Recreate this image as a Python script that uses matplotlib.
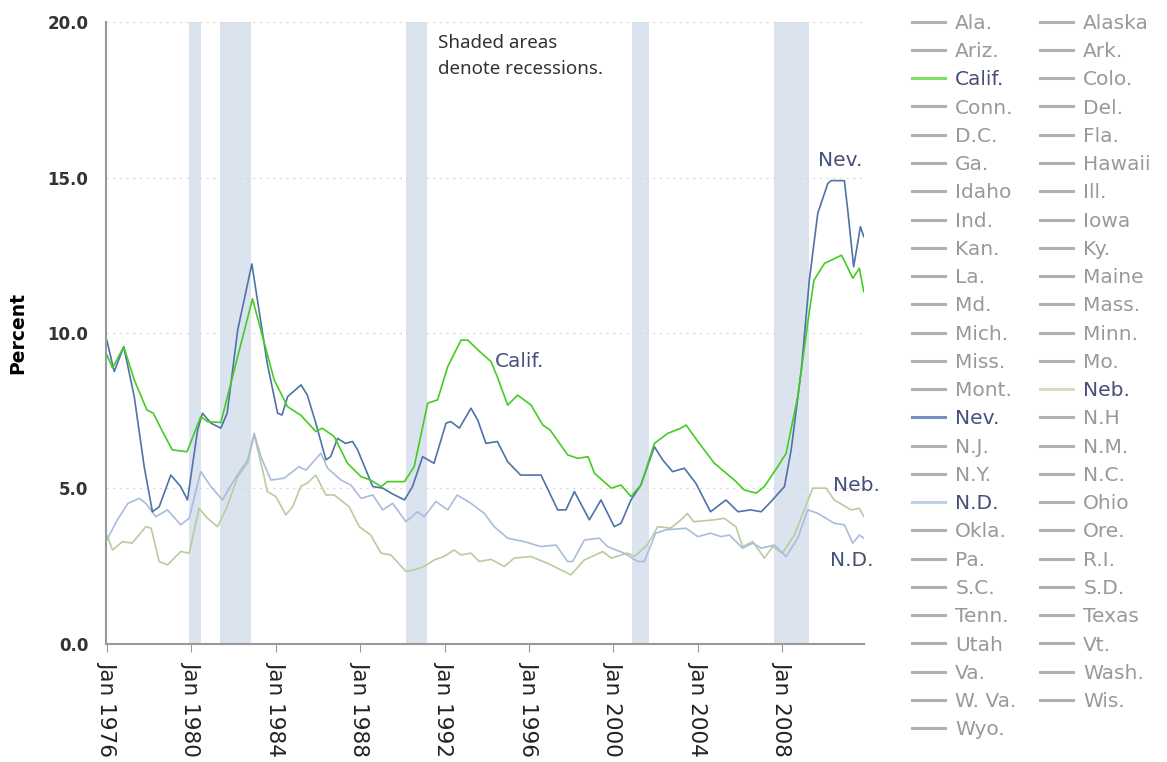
import matplotlib
matplotlib.use('Agg')
import matplotlib.pyplot as plt
from matplotlib.lines import Line2D

plt.rcParams['font.family'] = ['DejaVu Sans']

# unemployment rate, percent
calif_t = [1976.0, 1976.27, 1976.8, 1977.3, 1977.9, 1978.2, 1978.6, 1979.1, 1979.8, 1980.45,
           1980.77, 1981.4, 1982.9, 1983.93, 1984.56, 1985.2, 1985.9, 1986.2, 1986.77, 1987.4,
           1988.04, 1988.5, 1988.99, 1989.3, 1990.1, 1990.56, 1991.2, 1991.67, 1992.15, 1992.78,
           1993.1, 1993.7, 1994.2, 1994.5, 1994.99, 1995.46, 1996.1, 1996.65, 1997.0, 1997.83,
           1998.3, 1998.8, 1999.1, 1999.9, 2000.36, 2000.83, 2001.3, 2001.94, 2002.57, 2003.2,
           2003.44, 2004.0, 2004.78, 2005.73, 2006.2, 2006.76, 2007.15, 2007.78, 2008.18, 2008.73,
           2009.2, 2009.5, 2010.0, 2010.8, 2011.0, 2011.34, 2011.65, 2011.86]
calif_v = [9.3, 8.87, 9.56, 8.49, 7.52, 7.42, 6.88, 6.24, 6.18, 7.31,
           7.15, 7.12, 11.1, 8.49, 7.63, 7.35, 6.83, 6.94, 6.67, 5.81,
           5.38, 5.27, 5.06, 5.22, 5.22, 5.70, 7.74, 7.85, 8.92, 9.77,
           9.77, 9.38, 9.08, 8.59, 7.68, 8.0, 7.68, 7.04, 6.88, 6.08,
           5.97, 6.02, 5.49, 5.01, 5.11, 4.74, 5.11, 6.45, 6.77, 6.94,
           7.04, 6.51, 5.81, 5.27, 4.95, 4.85, 5.06, 5.70, 6.13, 7.95,
           10.31, 11.7, 12.24, 12.5, 12.24, 11.76, 12.08, 11.33]

nev_t = [1976.0, 1976.35, 1976.8, 1977.3, 1977.77, 1978.16, 1978.48, 1979.03, 1979.5, 1979.82,
         1980.3, 1980.53, 1980.93, 1981.4, 1981.7, 1982.2, 1982.87, 1983.6, 1984.09, 1984.3,
         1984.56, 1985.2, 1985.5, 1985.9, 1986.38, 1986.6, 1986.93, 1987.3, 1987.64, 1987.88,
         1988.6, 1989.07, 1989.46, 1990.1, 1990.48, 1990.96, 1991.5, 1992.07, 1992.3, 1992.7,
         1993.25, 1993.57, 1993.96, 1994.5, 1994.99, 1995.6, 1996.57, 1997.36, 1997.75, 1998.15,
         1998.86, 1999.41, 2000.04, 2000.36, 2000.83, 2001.3, 2001.94, 2002.33, 2002.8, 2003.36,
         2003.9, 2004.6, 2005.33, 2005.9, 2006.5, 2007.0, 2007.47, 2008.1, 2008.42, 2008.9,
         2009.28, 2009.68, 2010.15, 2010.3, 2010.94, 2011.1, 2011.38, 2011.7, 2011.86]
nev_v = [9.77, 8.76, 9.56, 7.95, 5.70, 4.25, 4.41, 5.43, 5.06, 4.63,
         6.88, 7.42, 7.10, 6.94, 7.42, 10.1, 12.22, 9.02, 7.42, 7.36,
         7.95, 8.33, 8.0, 7.10, 5.92, 6.02, 6.61, 6.45, 6.51, 6.24,
         5.06, 5.01, 4.85, 4.63, 5.06, 6.02, 5.81, 7.10, 7.15, 6.94,
         7.58, 7.20, 6.45, 6.51, 5.86, 5.43, 5.43, 4.31, 4.31, 4.90,
         3.99, 4.63, 3.77, 3.88, 4.63, 5.11, 6.34, 5.92, 5.54, 5.65,
         5.17, 4.25, 4.63, 4.25, 4.31, 4.25, 4.58, 5.06, 6.24, 8.81,
         11.7, 13.85, 14.8, 14.9, 14.9, 13.95, 12.13, 13.42, 13.1]

nd_t = [1976.0, 1976.5, 1977.0, 1977.53, 1977.85, 1978.32, 1978.87, 1979.5, 1979.9, 1980.45,
        1980.93, 1981.48, 1982.03, 1982.67, 1982.98, 1983.3, 1983.77, 1984.4, 1985.1, 1985.43,
        1986.14, 1986.46, 1987.09, 1987.56, 1988.04, 1988.6, 1989.07, 1989.54, 1990.17, 1990.72,
        1991.04, 1991.59, 1992.15, 1992.6, 1993.25, 1993.88, 1994.35, 1994.99, 1995.77, 1996.57,
        1997.28, 1997.83, 1998.07, 1998.62, 1999.33, 1999.72, 2000.5, 2001.15, 2001.46, 2002.0,
        2002.5, 2003.44, 2004.0, 2004.6, 2005.1, 2005.5, 2006.12, 2006.6, 2007.0, 2007.63,
        2008.18, 2008.73, 2009.2, 2009.68, 2010.46, 2010.94, 2011.34, 2011.65, 2011.86]
nd_v = [3.34, 3.99, 4.52, 4.68, 4.52, 4.09, 4.31, 3.83, 4.04, 5.54,
        5.06, 4.63, 5.27, 5.92, 6.77, 6.02, 5.27, 5.33, 5.70, 5.59,
        6.13, 5.65, 5.27, 5.11, 4.68, 4.79, 4.31, 4.52, 3.93, 4.25,
        4.09, 4.58, 4.31, 4.79, 4.52, 4.20, 3.77, 3.40, 3.29, 3.13,
        3.18, 2.65, 2.65, 3.34, 3.40, 3.13, 2.92, 2.65, 2.65, 3.56,
        3.67, 3.72, 3.45, 3.56, 3.45, 3.5, 3.08, 3.24, 3.08, 3.18,
        2.81, 3.40, 4.31, 4.20, 3.88, 3.83, 3.24, 3.50, 3.40]

neb_t = [1976.0, 1976.27, 1976.74, 1977.2, 1977.85, 1978.1, 1978.48, 1978.87, 1979.5, 1979.9,
         1980.37, 1980.77, 1981.24, 1981.7, 1982.2, 1982.67, 1982.98, 1983.38, 1983.6, 1984.0,
         1984.48, 1984.8, 1985.2, 1985.5, 1985.9, 1986.38, 1986.77, 1987.48, 1987.96, 1988.5,
         1988.99, 1989.46, 1990.17, 1990.56, 1991.04, 1991.5, 1991.97, 1992.45, 1992.78, 1993.25,
         1993.64, 1994.2, 1994.83, 1995.3, 1996.1, 1996.88, 1997.36, 1997.99, 1998.62, 1999.49,
         1999.9, 2000.67, 2001.0, 2001.6, 2002.1, 2002.7, 2003.2, 2003.5, 2003.8, 2004.78,
         2005.25, 2005.8, 2006.12, 2006.6, 2007.15, 2007.55, 2008.0, 2008.57, 2009.04, 2009.44,
         2010.07, 2010.46, 2011.26, 2011.65, 2011.86]
neb_v = [3.50, 3.02, 3.29, 3.24, 3.77, 3.72, 2.65, 2.54, 2.97, 2.92,
         4.36, 4.04, 3.77, 4.41, 5.38, 5.81, 6.72, 5.59, 4.90, 4.74,
         4.15, 4.41, 5.08, 5.17, 5.43, 4.79, 4.79, 4.41, 3.77, 3.50,
         2.92, 2.86, 2.33, 2.38, 2.49, 2.70, 2.81, 3.02, 2.86, 2.92,
         2.65, 2.72, 2.49, 2.76, 2.81, 2.59, 2.43, 2.22, 2.70, 2.97,
         2.76, 2.92, 2.81, 3.18, 3.77, 3.72, 3.99, 4.20, 3.93, 3.99,
         4.04, 3.77, 3.13, 3.29, 2.76, 3.13, 2.92, 3.50, 4.31, 5.01,
         5.01, 4.63, 4.31, 4.36, 4.09]

recessions = [(1979.9, 1980.45), (1981.35, 1982.85), (1990.15, 1991.15),
              (2000.87, 2001.7), (2007.6, 2009.27)]

tick_years = [1976, 1980, 1984, 1988, 1992, 1996, 2000, 2004, 2008]

states = ['Ala.', 'Alaska', 'Ariz.', 'Ark.', 'Calif.', 'Colo.', 'Conn.', 'Del.', 'D.C.', 'Fla.',
          'Ga.', 'Hawaii', 'Idaho', 'Ill.', 'Ind.', 'Iowa', 'Kan.', 'Ky.', 'La.', 'Maine',
          'Md.', 'Mass.', 'Mich.', 'Minn.', 'Miss.', 'Mo.', 'Mont.', 'Neb.', 'Nev.', 'N.H',
          'N.J.', 'N.M.', 'N.Y.', 'N.C.', 'N.D.', 'Ohio', 'Okla.', 'Ore.', 'Pa.', 'R.I.',
          'S.C.', 'S.D.', 'Tenn.', 'Texas', 'Utah', 'Vt.', 'Va.', 'Wash.', 'W. Va.', 'Wis.',
          'Wyo.']

c_calif = '#44cc22'
c_nev = '#4f72a8'
c_nd = '#a9bcdc'
c_neb = '#b9cc9e'
c_lab = '#46507a'
highlight = {'Calif.': '#7ee066', 'Nev.': '#6f8fc0', 'N.D.': '#c0cfe8', 'Neb.': '#d2dfc0'}

fig = plt.figure(figsize=(11.67, 7.62), dpi=100)
ax = fig.add_axes([0.091, 0.155, 0.649, 0.816])

for a, b in recessions:
    ax.axvspan(a, b, color='#dbe3ef', lw=0, zorder=0)

for yv in [5, 10, 15, 20]:
    ax.axhline(yv, color='#d8d8d8', lw=0.8, ls=(0, (2, 4)), zorder=0.5)

ax.plot(neb_t, neb_v, color=c_neb, lw=1.2)
ax.plot(nd_t, nd_v, color=c_nd, lw=1.2)
ax.plot(nev_t, nev_v, color=c_nev, lw=1.2)
ax.plot(calif_t, calif_v, color=c_calif, lw=1.2)

ax.text(2009.7, 15.55, 'Nev.', color=c_lab, fontsize=14.5, va='center')
ax.text(1994.4, 9.07, 'Calif.', color=c_lab, fontsize=14.5, va='center')
ax.text(2010.4, 5.11, 'Neb.', color=c_lab, fontsize=14.5, va='center')
ax.text(2010.26, 2.67, 'N.D.', color=c_lab, fontsize=14.5, va='center')
ax.text(1991.67, 19.62, 'Shaded areas\ndenote recessions.', color='#333333', fontsize=13.5,
        va='top', linespacing=1.55, family=['Noto Sans', 'DejaVu Sans'])

ax.set_xlim(1975.97, 2011.85)
ax.set_ylim(0, 20)
ax.set_yticks([0, 5, 10, 15, 20])
ax.set_yticklabels(['%.1f' % v for v in [0, 5, 10, 15, 20]], fontsize=12, fontweight='bold',
                   color='#333333')
ax.set_xticks(tick_years)
ax.set_xticklabels(['Jan %d' % y for y in tick_years], rotation=270, fontsize=15.5,
                   color='#222222')
ax.tick_params(axis='y', length=0, pad=13)
ax.tick_params(axis='x', length=6, color='#999999', pad=6)
ax.set_ylabel('Percent', fontsize=13.5, fontweight='bold', labelpad=14)
for s in ['top', 'right']:
    ax.spines[s].set_visible(False)
for s in ['left', 'bottom']:
    ax.spines[s].set_color('#999999')
    ax.spines[s].set_linewidth(1.5)

# legend in row order, two columns
order = states[0::2] + states[1::2]
handles = [Line2D([], [], color=highlight.get(s, '#b0b0b0'), lw=2.2) for s in order]
leg = fig.legend(handles, order, loc='upper left', bbox_to_anchor=(0.7815, 0.982), ncol=2,
                 frameon=False, fontsize=14.5, handlelength=1.65, handletextpad=0.5,
                 labelspacing=0.46, columnspacing=1.15, borderpad=0, borderaxespad=0)
for t in leg.get_texts():
    t.set_color(c_lab if t.get_text() in highlight else '#999999')

fig.savefig('out.png', dpi=100)
